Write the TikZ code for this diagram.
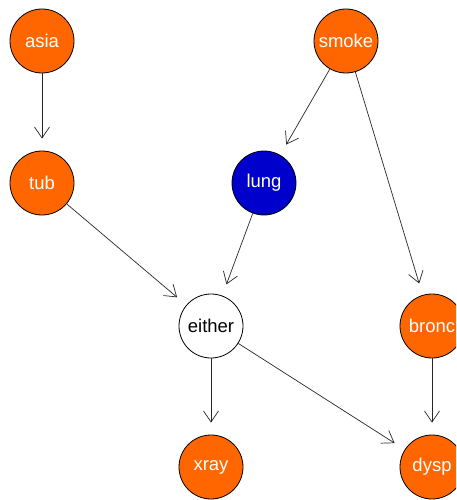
\documentclass[tikz,border=0pt]{standalone}
\usepackage{fontspec}
\setmainfont{Liberation Sans}
\usetikzlibrary{arrows.meta}
\definecolor{nodeorange}{RGB}{255,102,0}
\definecolor{nodeblue}{RGB}{0,0,205}
\begin{document}
\begin{tikzpicture}[x=1pt,y=-1pt,
  vnode/.style={circle,draw=black,line width=0.8pt,minimum size=64pt,inner sep=0pt,font=\fontsize{18.5}{20}\selectfont},
  orangenode/.style={vnode,fill=nodeorange,text=white},
  bluenode/.style={vnode,fill=nodeblue,text=white},
  whitenode/.style={vnode,fill=white,text=black},
  edge/.style={draw=black!85,line width=0.7pt,-{Straight Barb[length=11pt,width=15pt]},shorten >=12pt}
]
\useasboundingbox (0,0) rectangle (456,500);
\clip (0,0) rectangle (456,500);
\node[orangenode] (asia) at (42,41) {asia};
\node[orangenode] (smoke) at (346,41) {smoke};
\node[orangenode] (tub) at (42,183) {tub};
\node[bluenode] (lung) at (264,183) {lung};
\node[whitenode] (either) at (211,326) {either};
\node[orangenode] (bronc) at (432,326) {bronc};
\node[orangenode] (xray) at (211,467) {xray};
\node[orangenode] (dysp) at (432,467) {dysp};
\draw[edge] (asia) -- (tub);
\draw[edge] (smoke) -- (lung);
\draw[edge] (smoke) -- (bronc);
\draw[edge] (tub) -- (either);
\draw[edge] (lung) -- (either);
\draw[edge] (either) -- (xray);
\draw[edge] (either) -- (dysp);
\draw[edge] (bronc) -- (dysp);
\end{tikzpicture}
\end{document}
